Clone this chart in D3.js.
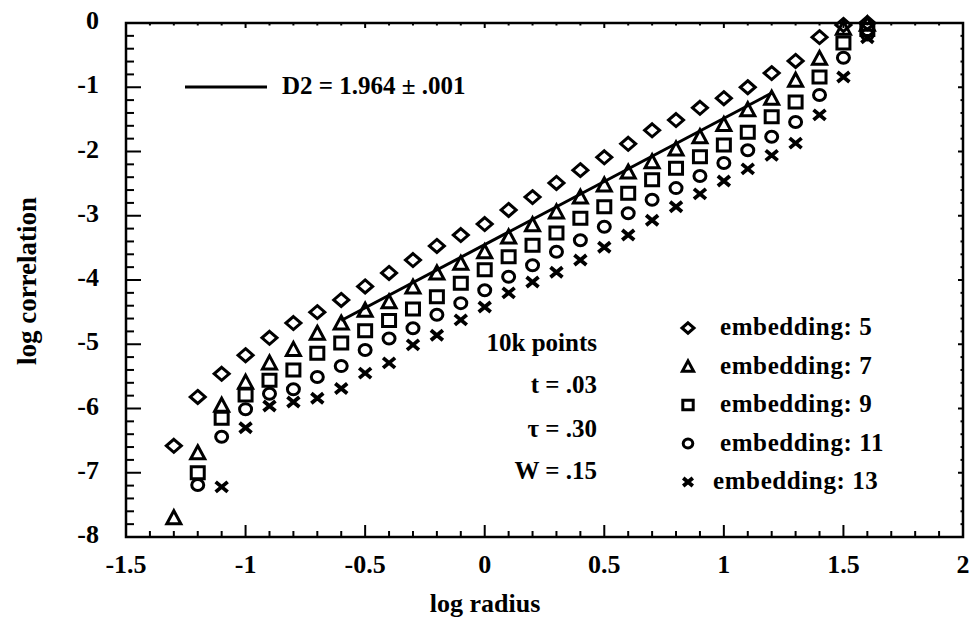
<!doctype html>
<html lang="en">
<head>
<meta charset="utf-8">
<script src="https://cdn.jsdelivr.net/npm/d3@7"></script>
<style>
  body { margin: 0; background: #fff; }
  svg text { font-family: "Liberation Serif", "Times New Roman", serif; font-weight: bold; fill: #000; }
</style>
</head>
<body>
<div id="viz"></div>
<script>

// values (log radius -> log correlation)
const x5  = [-1.3,-1.2,-1.1,-1.0,-0.9,-0.8,-0.7,-0.6,-0.5,-0.4,-0.3,-0.2,-0.1,0.0,0.1,0.2,0.3,0.4,0.5,0.6,0.7,0.8,0.9,1.0,1.1,1.2,1.3,1.4,1.5,1.6];
const y5  = [-6.58,-5.82,-5.46,-5.17,-4.90,-4.67,-4.50,-4.31,-4.10,-3.89,-3.69,-3.47,-3.30,-3.13,-2.91,-2.71,-2.49,-2.29,-2.09,-1.88,-1.67,-1.51,-1.32,-1.17,-1.00,-0.78,-0.59,-0.22,-0.03,0.0];
const x7  = x5;
const y7  = [-7.70,-6.69,-5.95,-5.59,-5.29,-5.08,-4.83,-4.67,-4.47,-4.34,-4.11,-3.89,-3.74,-3.56,-3.33,-3.14,-2.94,-2.71,-2.52,-2.32,-2.16,-1.96,-1.77,-1.58,-1.35,-1.17,-0.89,-0.55,-0.08,-0.02];
const x9  = [-1.2,-1.1,-1.0,-0.9,-0.8,-0.7,-0.6,-0.5,-0.4,-0.3,-0.2,-0.1,0.0,0.1,0.2,0.3,0.4,0.5,0.6,0.7,0.8,0.9,1.0,1.1,1.2,1.3,1.4,1.5,1.6];
const y9  = [-7.00,-6.15,-5.79,-5.56,-5.40,-5.14,-4.98,-4.79,-4.63,-4.45,-4.26,-4.05,-3.84,-3.64,-3.46,-3.27,-3.04,-2.86,-2.65,-2.44,-2.26,-2.08,-1.90,-1.70,-1.46,-1.23,-0.84,-0.31,-0.10];
const x11 = x9;
const y11 = [-7.19,-6.44,-6.01,-5.77,-5.70,-5.51,-5.34,-5.09,-4.91,-4.75,-4.54,-4.36,-4.16,-3.95,-3.77,-3.56,-3.38,-3.17,-2.96,-2.75,-2.57,-2.38,-2.18,-1.98,-1.77,-1.54,-1.12,-0.54,-0.18];
const x13 = [-1.1,-1.0,-0.9,-0.8,-0.7,-0.6,-0.5,-0.4,-0.3,-0.2,-0.1,0.0,0.1,0.2,0.3,0.4,0.5,0.6,0.7,0.8,0.9,1.0,1.1,1.2,1.3,1.4,1.5,1.6];
const y13 = [-7.22,-6.30,-5.96,-5.90,-5.84,-5.69,-5.45,-5.29,-5.01,-4.86,-4.62,-4.42,-4.20,-4.03,-3.88,-3.69,-3.49,-3.30,-3.07,-2.86,-2.66,-2.46,-2.27,-2.06,-1.87,-1.43,-0.84,-0.23];

// fitted line D2
const fitX = [-0.6, 1.2];
const fitY = [-4.63, -1.09];

const xTicks = [-1.5, -1, -0.5, 0, 0.5, 1, 1.5, 2];
const xTickLabels = ["-1.5", "-1", "-0.5", "0", "0.5", "1", "1.5", "2"];
const yTicks = [0, -1, -2, -3, -4, -5, -6, -7, -8];
const yTickLabels = ["0", "-1", "-2", "-3", "-4", "-5", "-6", "-7", "-8"];

const seriesNames = ["embedding: 5", "embedding: 7", "embedding: 9", "embedding: 11", "embedding: 13"];
const seriesSymbols = ["diamond", "triangle", "square", "circle", "cross"];
const notes = ["10k points", "t = .03", "\u03c4 = .30", "W = .15"];

const series = [
  {x: x5, y: y5}, {x: x7, y: y7}, {x: x9, y: y9}, {x: x11, y: y11}, {x: x13, y: y13}
];

const width = 978, height = 626;
const x = d3.scaleLinear().domain([-1.5, 2]).range([126, 963]);
const y = d3.scaleLinear().domain([-8, 0]).range([537, 23]);

const svg = d3.select("#viz").append("svg")
    .attr("width", width)
    .attr("height", height);

// symbol shapes, big for plot, small for legend
function symPath(type, k) {
  switch (type) {
    case "diamond":  return `M0,${-6.5*k}L${7.5*k},0L0,${6.5*k}L${-7.5*k},0Z`;
    case "triangle": return `M0,${-7*k}L${7*k},${6*k}L${-7*k},${6*k}Z`;
    case "square":   return `M${-6.5*k},${-6*k}h${13*k}v${12*k}h${-13*k}Z`;
    case "cross":    return `M${-6*k},${-5*k}L${6*k},${5*k}M${-6*k},${5*k}L${6*k},${-5*k}`;
  }
}

function drawSymbol(g, type, k) {
  if (type === "circle") {
    g.append("ellipse").attr("rx", 6 * k).attr("ry", 5.5 * k)
      .attr("fill", "none").attr("stroke", "#000").attr("stroke-width", 3);
  } else {
    g.append("path").attr("d", symPath(type, k))
      .attr("fill", "none").attr("stroke", "#000")
      .attr("stroke-width", type === "cross" ? 3.8 : 3)
      .attr("stroke-linejoin", "miter");
  }
}

// frame
svg.append("rect")
    .attr("x", x(-1.5)).attr("y", y(0))
    .attr("width", x(2) - x(-1.5)).attr("height", y(-8) - y(0))
    .attr("fill", "none").attr("stroke", "#000").attr("stroke-width", 2.5);

// ticks (inward)
const xMinor = d3.range(-15, 21).map(d => d / 10);
const yMinor = d3.range(-40, 1).map(d => d / 5);
const isMajorX = v => Math.abs(v * 2 - Math.round(v * 2)) < 1e-6;
const isMajorY = v => Math.abs(v - Math.round(v)) < 1e-6;

const ticks = svg.append("g").attr("stroke", "#000").attr("stroke-width", 2);
ticks.selectAll(".xb").data(xMinor).join("line")
    .attr("x1", d => x(d)).attr("x2", d => x(d))
    .attr("y1", y(-8)).attr("y2", d => y(-8) - (isMajorX(d) ? 12 : 6));
ticks.selectAll(".xt").data(xMinor).join("line")
    .attr("x1", d => x(d)).attr("x2", d => x(d))
    .attr("y1", y(0)).attr("y2", d => y(0) + (isMajorX(d) ? 5 : 2.5));
ticks.selectAll(".yl").data(yMinor).join("line")
    .attr("y1", d => y(d)).attr("y2", d => y(d))
    .attr("x1", x(-1.5)).attr("x2", d => x(-1.5) + (isMajorY(d) ? 15 : 8));
ticks.selectAll(".yr").data(yMinor).join("line")
    .attr("y1", d => y(d)).attr("y2", d => y(d))
    .attr("x1", x(2)).attr("x2", d => x(2) - (isMajorY(d) ? 5 : 2.5));

// tick labels
svg.append("g").selectAll("text").data(xTicks).join("text")
    .attr("x", d => x(d)).attr("y", 573)
    .attr("text-anchor", "middle").attr("font-size", 26)
    .text((d, i) => xTickLabels[i]);
svg.append("g").selectAll("text").data(yTicks).join("text")
    .attr("x", 99).attr("y", d => y(d) + 6)
    .attr("text-anchor", "end").attr("font-size", 26)
    .text((d, i) => yTickLabels[i]);

// axis titles
svg.append("text").attr("x", 485).attr("y", 612)
    .attr("text-anchor", "middle").attr("font-size", 26).text("log radius");
svg.append("text").attr("transform", "translate(36,281) rotate(-90)")
    .attr("text-anchor", "middle").attr("font-size", 27).text("log correlation");

// points
series.forEach((s, i) => {
  const pts = s.x.map((v, j) => [v, s.y[j]]);
  svg.append("g").selectAll("g").data(pts).join("g")
      .attr("transform", d => `translate(${x(d[0])},${y(d[1])})`)
      .each(function() { drawSymbol(d3.select(this), seriesSymbols[i], 1); });
});

// fit line
svg.append("line")
    .attr("x1", x(fitX[0])).attr("y1", y(fitY[0]))
    .attr("x2", x(fitX[1])).attr("y2", y(fitY[1]))
    .attr("stroke", "#000").attr("stroke-width", 3);

// fit label
svg.append("line").attr("x1", 185).attr("x2", 267).attr("y1", 87).attr("y2", 87)
    .attr("stroke", "#000").attr("stroke-width", 3);
svg.append("text").attr("x", 282).attr("y", 94).attr("font-size", 25)
    .text("D2 =  1.964 \u00b1 .001");

// notes
svg.append("g").selectAll("text").data(notes).join("text")
    .attr("x", 597).attr("y", (d, i) => [351, 393, 437, 479][i])
    .attr("text-anchor", "end").attr("font-size", 25)
    .text(d => d);

// legend
const leg = svg.append("g").selectAll("g").data(seriesNames).join("g")
    .attr("transform", (d, i) => `translate(688,${328 + i * 38.5})`);
leg.each(function(d, i) { drawSymbol(d3.select(this), seriesSymbols[i], 0.8); });
leg.append("text").attr("x", (d, i) => i === 4 ? 25 : 32).attr("y", 7)
    .attr("font-size", 25).attr("letter-spacing", 0.6)
    .text(d => d);

</script>
</body>
</html>
